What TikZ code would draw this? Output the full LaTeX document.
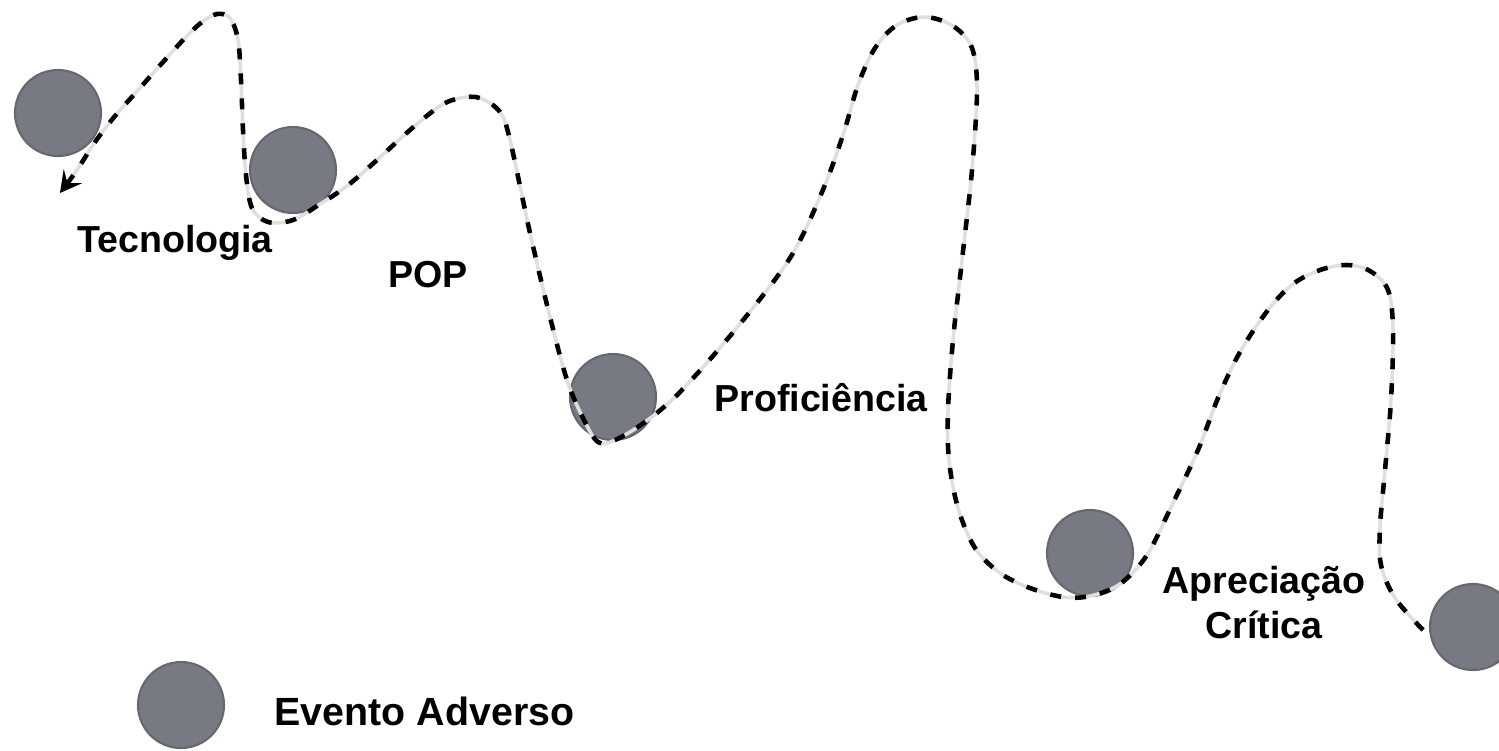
\documentclass[tikz,border=0pt]{standalone}
\usepackage{fontspec}
\setmainfont{Liberation Sans}
\usepackage{tikz}
\usetikzlibrary{arrows.meta}
\definecolor{evgray}{RGB}{120,122,131}

\begin{document}
\begin{tikzpicture}[
        evento/.style={circle,fill=evgray,draw=evgray!85!black,line width=0.6pt,minimum size=0.86cm,inner sep=0pt},
        rotulo/.style={font=\fontsize{10.7}{12.8}\selectfont\bfseries,inner sep=0pt,align=center},
        trilha/.style={line width=1.3pt,dash pattern=on 0.11cm off 0.14cm,
            preaction={draw=gray!25,solid,line width=1pt},
            -{Stealth[length=6pt,width=6.5pt,inset=2.5pt]}}]
        \clip (0,0) rectangle (14.99,-7.5);
        \fill[white] (0,0) rectangle (14.99,-7.5);
        % eventos adversos ao longo do caminho
        \node[evento] (c1) at (0.58,-1.13) {};
        \node[evento] (c2) at (2.93,-1.70) {};
        \node[evento] (c3) at (6.13,-3.97) {};
        \node[evento] (c4) at (10.90,-5.53) {};
        \node[evento] (c5) at (14.73,-6.27) {};
        \draw[trilha] plot[smooth,tension=0.55] coordinates {
            (14.23,-6.30) (13.95,-5.98) (13.81,-5.65) (13.80,-5.27) (13.85,-4.70)
            (13.91,-4.00) (13.93,-3.30) (13.88,-2.90) (13.70,-2.71) (13.47,-2.65)
            (13.20,-2.70) (12.93,-2.84) (12.68,-3.10) (12.40,-3.52) (12.18,-3.98)
            (11.98,-4.50) (11.72,-5.05) (11.47,-5.55) (11.20,-5.84) (10.90,-5.96)
            (10.63,-5.97) (10.30,-5.88) (10.00,-5.73) (9.75,-5.48) (9.58,-5.08)
            (9.49,-4.60) (9.48,-4.10) (9.53,-3.40) (9.62,-2.60) (9.72,-1.70)
            (9.77,-0.90) (9.72,-0.48) (9.53,-0.26) (9.25,-0.17) (8.97,-0.25)
            (8.75,-0.48) (8.58,-0.85) (8.43,-1.35) (8.22,-1.92) (7.90,-2.58)
            (7.35,-3.30) (6.80,-3.92) (6.45,-4.22) (6.15,-4.40) (5.98,-4.42)
            (5.83,-4.18) (5.67,-3.80) (5.50,-3.17) (5.30,-2.33) (5.10,-1.40)
            (5.00,-1.12) (4.80,-0.98) (4.60,-0.98) (4.40,-1.06) (4.10,-1.30)
            (3.77,-1.60) (3.47,-1.86) (3.20,-2.04) (2.93,-2.20) (2.68,-2.22)
            (2.52,-2.08) (2.46,-1.75) (2.43,-1.30) (2.41,-0.80) (2.38,-0.40)
            (2.30,-0.18) (2.17,-0.14) (2.02,-0.22) (1.85,-0.38) (1.63,-0.62)
            (1.40,-0.88) (1.15,-1.16) (0.95,-1.42) (0.77,-1.70) (0.60,-1.93)};
        \node[rotulo] (tec) at (1.75,-2.43) {Tecnologia};
        \node[rotulo] (pop) at (4.28,-2.75) {POP};
        \node[rotulo] (prof) at (8.21,-3.98) {Proficiência};
        \node[rotulo] (apc) at (12.64,-6.03) {Apreciação\\Crítica};
        % legenda
        \node[evento] (leg) at (1.81,-7.05) {};
        \node[rotulo,font=\fontsize{11.2}{12}\selectfont\bfseries] (legtxt) at (4.245,-7.11) {Evento Adverso};
    \end{tikzpicture}
\end{document}
